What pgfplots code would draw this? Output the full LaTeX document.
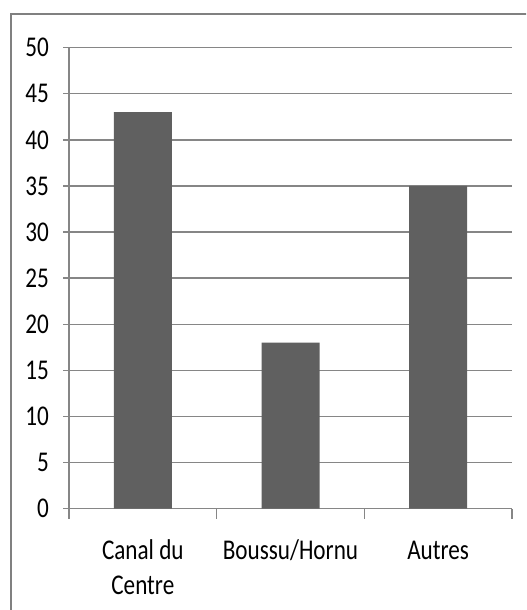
\documentclass[border=0pt]{standalone}
\usepackage{fontspec}
\setmainfont{Carlito}[FakeStretch=0.81]
\usepackage{pgfplots}
\pgfplotsset{compat=1.18}
\definecolor{bargray}{RGB}{96,96,96}
\definecolor{gridgray}{RGB}{134,134,134}
\definecolor{framegray}{RGB}{128,128,128}
\begin{document}
\begin{tikzpicture}
\useasboundingbox (0,0) rectangle (263pt,305pt);
\clip (0,0) rectangle (263pt,305pt);
\fill[white] (0,0) rectangle (263pt,305pt);
\draw[framegray, line width=1.2pt] (5.5pt,-10pt) rectangle (275pt,298pt);
\begin{axis}[
  at={(34.5pt,50.65pt)}, anchor=south west,
  scale only axis, width=221.5pt, height=230.5pt,
  xmin=-0.5, xmax=2.5, ymin=0, ymax=50,
  axis lines=left,
  axis line style={draw=gridgray, line width=0.7pt, -},
  ytick={0,5,...,50},
  ymajorgrids,
  grid style={draw=gridgray, line width=0.7pt},
  y tick style={draw=gridgray, line width=0.7pt},
  tick align=outside,
  major tick length=3pt,
  xtick={0,1,2},
  xticklabels={{\strut Canal du\\Centre},{\strut Boussu/Hornu},{\strut Autres}},
  x tick style={draw=none},
  extra x ticks={-0.5,0.5,1.5,2.5},
  extra x tick labels={},
  extra x tick style={x tick style={draw=gridgray, line width=0.7pt}, major tick length=5pt, grid=none},
  xticklabel style={align=center, anchor=north, font=\fontsize{14.3pt}{17.5pt}\selectfont, text=black, yshift=-6.5pt},
  yticklabel style={font=\fontsize{14.3pt}{17.5pt}\selectfont, text=black, xshift=-3.5pt},
  /pgf/number format/assume math mode=true,
  clip=false,
]
\addplot[ybar, bar width=29pt, fill=bargray, draw=none] coordinates {(0,43) (1,18) (2,35)};
\end{axis}
\end{tikzpicture}
\end{document}
